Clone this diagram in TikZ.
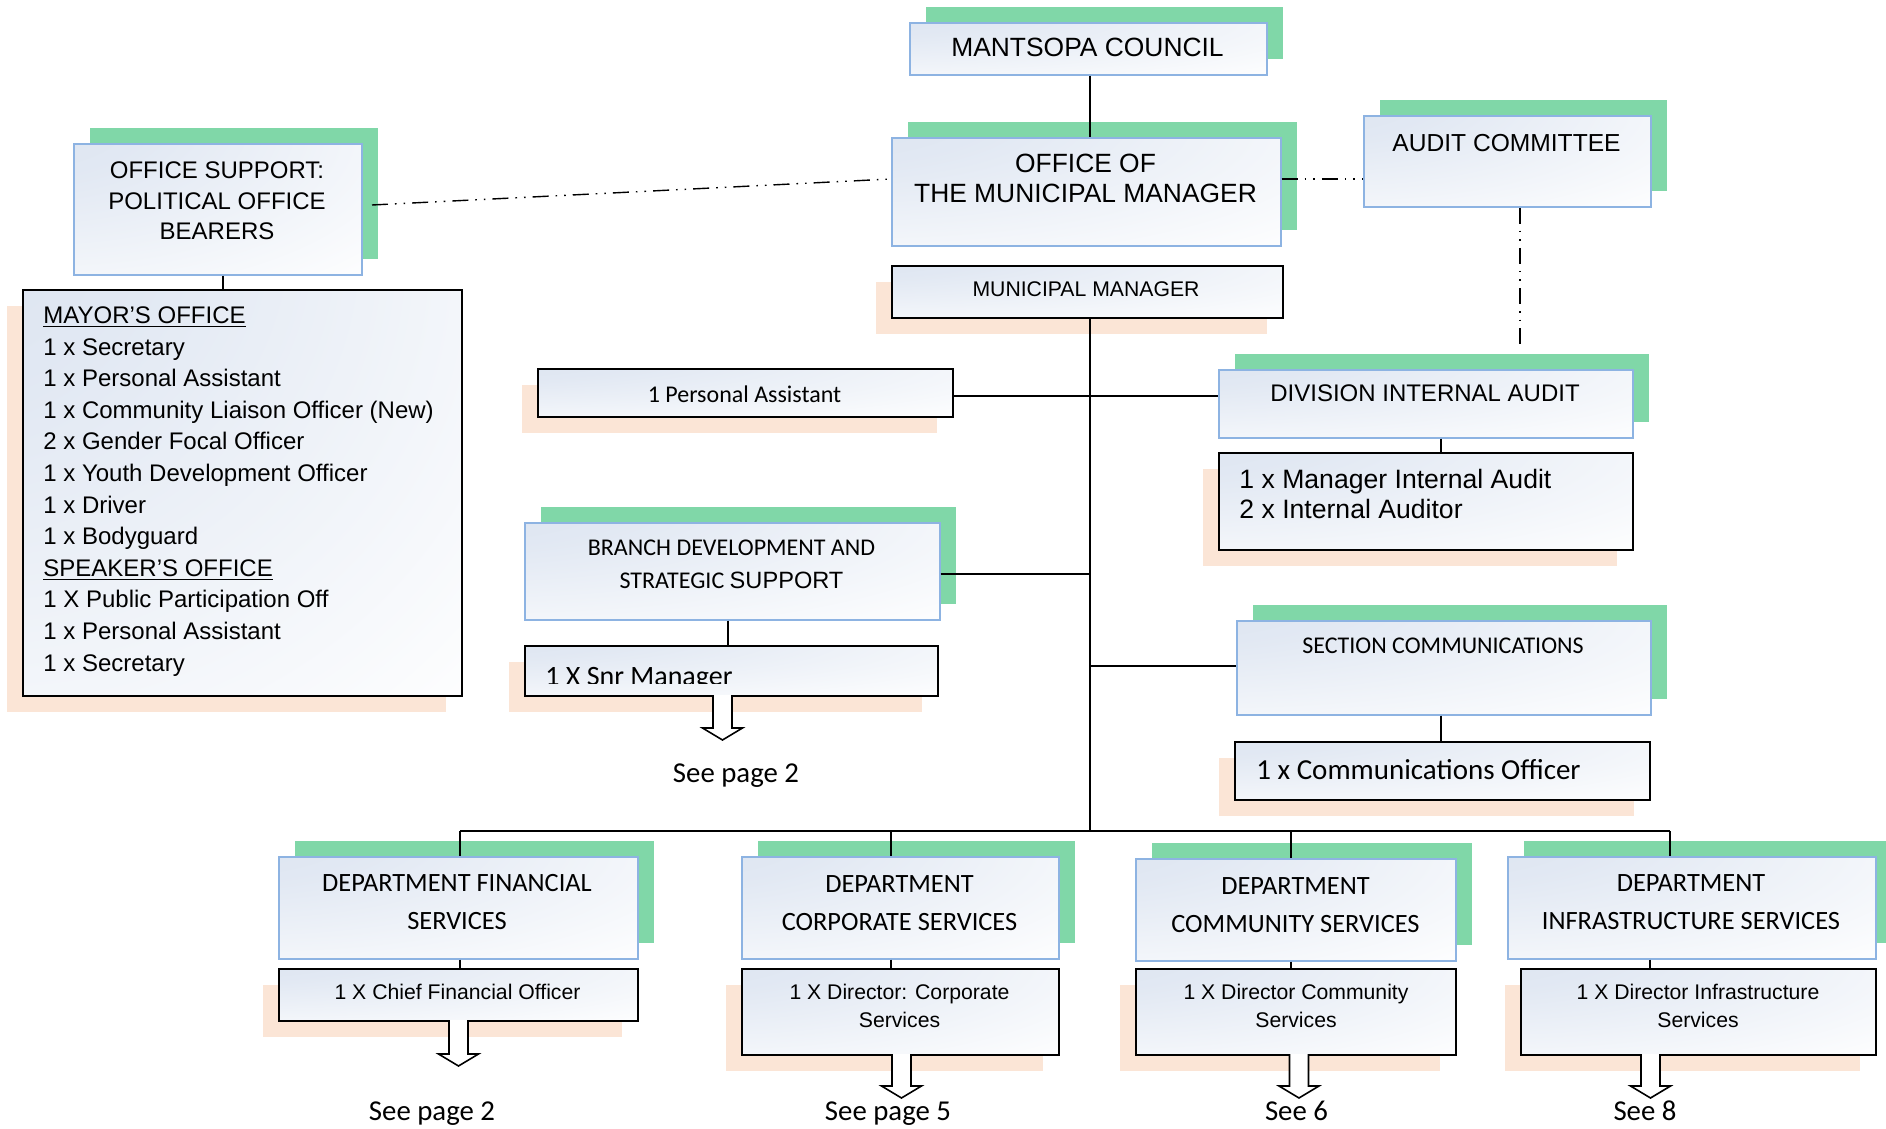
\documentclass[tikz,border=0pt]{standalone}
\usepackage{fontspec}
\setmainfont{Liberation Sans}
\newfontfamily\calibri{Carlito}
\usetikzlibrary{shadows}
\definecolor{shgreen}{RGB}{128,215,168}
\definecolor{shpeach}{RGB}{251,229,214}
\definecolor{bluebd}{RGB}{141,179,226}
\definecolor{gradc}{RGB}{216,225,239}
\pgfdeclareradialshading{boxglow}{\pgfpoint{-42bp}{42bp}}{color(0bp)=(gradc); color(25bp)=(gradc!75!white); color(72bp)=(white); color(160bp)=(white)}
\tikzset{
  boxbase/.style={rectangle, anchor=north west, inner sep=0pt, shading=boxglow},
  bluebox/.style={boxbase, draw=bluebd, line width=0.8pt, general shadow={fill=shgreen, shadow xshift=8pt, shadow yshift=8pt}},
  blackbox/.style={boxbase, draw=black, line width=0.8pt, general shadow={fill=shpeach, shadow xshift=-8pt, shadow yshift=-8pt}},
  sz/.style 2 args={minimum width=#1, minimum height=#2},
  lbl/.style={anchor=base, inner sep=0pt, align=center},
  lbll/.style={anchor=base west, inner sep=0pt, align=left},
  conn/.style={draw=black, line width=0.7pt},
  ddot/.style={conn, dash pattern=on 8pt off 3.5pt on 0.8pt off 3.5pt on 0.8pt off 3.5pt},
  barrow/.style={draw=black, fill=white, line width=0.8pt, line join=miter},
  fA/.style={font=\fontsize{13.2}{15}\selectfont},
  fB/.style={font=\fontsize{12}{15.5}\selectfont},
  fS/.style={font=\fontsize{10.6}{14}\selectfont},
  fC/.style={font=\calibri\fontsize{12}{16.5}\selectfont},
  fD/.style={font=\calibri\fontsize{13.2}{18.7}\selectfont},
  fE/.style={font=\calibri\fontsize{14.4}{17}\selectfont},
}
\newcommand\blockarr[3]{\draw[barrow] ({#1-9.5},#2) -- ({#1-9.5},{#3-12}) -- ({#1-20},{#3-12}) -- (#1,#3) -- ({#1+20},{#3-12}) -- ({#1+9.5},{#3-12}) -- ({#1+9.5},#2);}
\begin{document}
\begin{tikzpicture}[x=0.5pt, y=-0.5pt]
\clip (0,0) rectangle (1886,1129);
\fill[white] (0,0) rectangle (1886,1129);
% ---------- boxes ----------
\node[bluebox, sz={178.5pt}{26pt}] (council) at (909,22) {};
\node[bluebox, sz={194.5pt}{54pt}] (omm) at (891,137) {};
\node[blackbox, sz={195.5pt}{26pt}] (mm) at (891,265) {};
\node[bluebox, sz={143.5pt}{45.5pt}] (audit) at (1363,115) {};
\node[bluebox, sz={144pt}{65.5pt}] (ospob) at (73,143) {};
\node[blackbox, sz={219.5pt}{203pt}] (mayor) at (22,289) {};
\node[blackbox, sz={207.5pt}{24pt}] (pa) at (537,368) {};
\node[bluebox, sz={207.5pt}{48.5pt}] (bdss) at (524,522) {};
\node[blackbox, sz={206.5pt}{25pt}] (snr) at (524,645) {};
\node[bluebox, sz={207pt}{34pt}] (dia) at (1218,369) {};
\node[blackbox, sz={207pt}{48.5pt}] (mia) at (1218,452) {};
\node[bluebox, sz={207pt}{47pt}] (sc) at (1236,620) {};
\node[blackbox, sz={207.5pt}{29pt}] (co) at (1234,741) {};
\node[bluebox, sz={179.5pt}{51pt}] (dfs) at (278,856) {};
\node[blackbox, sz={179.5pt}{26pt}] (cfo) at (278,968) {};
\node[bluebox, sz={158.5pt}{51pt}] (dcs) at (741,856) {};
\node[blackbox, sz={158.5pt}{43pt}] (dcsd) at (741,968) {};
\node[bluebox, sz={160pt}{51pt}] (dcoms) at (1135,858) {};
\node[blackbox, sz={160pt}{43pt}] (dcomsd) at (1135,968) {};
\node[bluebox, sz={184pt}{51pt}] (dis) at (1507,856) {};
\node[blackbox, sz={177.5pt}{43pt}] (disd) at (1520,968) {};
% ---------- texts (anchor base = baseline of the last line) ----------
\node[lbl, fA] (councilT) at (1087.5,57) {MANTSOPA COUNCIL};
\node[lbl, fA] (ommT) at (1085.5,203) {OFFICE OF\\THE MUNICIPAL MANAGER};
\node[lbl, fS] (mmT) at (1086,296) {MUNICIPAL MANAGER};
\node[lbl, font=\fontsize{12.3}{15}\selectfont] (auditT) at (1506.5,152) {AUDIT COMMITTEE};
\node[lbl, fB] (ospobT) at (217,240) {OFFICE SUPPORT:\\POLITICAL OFFICE\\BEARERS};
\node[lbll, font=\fontsize{12}{15.8}\selectfont] (mayorT) at (43,671) {\underline{MAYOR’S OFFICE}\\1 x Secretary\\1 x Personal Assistant\\1 x Community Liaison Officer (New)\\2 x Gender Focal Officer\\1 x Youth Development Officer\\1 x Driver\\1 x Bodyguard\\\underline{SPEAKER’S OFFICE}\\1 X Public Participation Off\\1 x Personal Assistant\\1 x Secretary};
\node[lbl, fC] (paT) at (744.5,402) {1 Personal Assistant};
\node[lbl, fC] (bdssT) at (731.5,588) {BRANCH DEVELOPMENT AND\\STRATEGIC {\normalfont\fontsize{11.8}{16.5}\selectfont SUPPORT}};
\begin{scope}
\clip (524,645) rectangle (937,683);
\node[lbll, font=\calibri\fontsize{14}{16}\selectfont] (snrT) at (545,685) {1 X Snr Manager};
\end{scope}
\node[lbl, fE] (seeA) at (736,782) {See page 2};
\node[lbl, fB] (diaT) at (1425,401) {DIVISION INTERNAL AUDIT};
\node[lbll, font=\fontsize{13.3}{15}\selectfont] (miaT) at (1239,518) {1 x Manager Internal Audit\\2 x Internal Auditor};
\node[lbl, fC] (scT) at (1443,653) {SECTION COMMUNICATIONS};
\node[lbll, font=\calibri\fontsize{14.5}{17}\selectfont] (coT) at (1256,779) {1 x Communications Officer};
\node[lbl, fD] (dfsT) at (457,929) {DEPARTMENT FINANCIAL\\SERVICES};
\node[lbl, fS] (cfoT) at (457.5,999) {1 X Chief Financial Officer};
\node[lbl, fD] (dcsT) at (899.5,930) {DEPARTMENT\\CORPORATE SERVICES};
\node[lbl, fS] (dcsdT) at (899.5,1027) {1 X Director: Corporate\\Services};
\node[lbl, fD] (dcomsT) at (1295.5,932) {DEPARTMENT\\COMMUNITY SERVICES};
\node[lbl, fS] (dcomsdT) at (1296,1027) {1 X Director Community\\Services};
\node[lbl, fD] (disT) at (1691,929) {DEPARTMENT\\INFRASTRUCTURE SERVICES};
\node[lbl, fS] (disdT) at (1698,1027) {1 X Director Infrastructure\\Services};
\node[lbl, fE] (seeB) at (432,1120) {See page 2};
\node[lbl, fE] (seeC) at (888,1120) {See page 5};
\node[lbl, fE] (seeD) at (1296.5,1120) {See 6};
\node[lbl, fE] (seeE) at (1645,1120) {See 8};
% ---------- connectors ----------
\coordinate (tx) at (1090,0);
\draw[conn] (council.south -| tx) -- (omm.north -| tx);
\coordinate (busL) at (460,831);
\coordinate (busR) at (1670,831);
\coordinate (b2) at (891,831);
\coordinate (b3) at (1291,831);
\coordinate (b5) at (1650,0);
\draw[conn] (mm.south -| tx) -- (tx |- busL);
\draw[conn] (busL) -- (busR);
\draw[conn] (busL) -- (busL |- dfs.north);
\draw[conn] (b2) -- (b2 |- dcs.north);
\draw[conn] (b3) -- (b3 |- dcoms.north);
\draw[conn] (busR) -- (busR |- dis.north);
\draw[conn] (busL |- dfs.south) -- (busL |- cfo.north);
\draw[conn] (b2 |- dcs.south) -- (b2 |- dcsd.north);
\draw[conn] (b3 |- dcoms.south) -- (b3 |- dcomsd.north);
\draw[conn] (b5 |- dis.south) -- (b5 |- disd.north);
\coordinate (rowA) at (0,396);
\coordinate (rowB) at (0,574);
\coordinate (rowC) at (0,666);
\draw[conn] (pa.east |- rowA) -- (dia.west |- rowA);
\draw[conn] (bdss.east |- rowB) -- (tx |- rowB);
\draw[conn] (tx |- rowC) -- (sc.west |- rowC);
\coordinate (ox) at (223,0);
\draw[conn] (ospob.south -| ox) -- (mayor.north -| ox);
\coordinate (ix) at (1441,0);
\draw[conn] (dia.south -| ix) -- (mia.north -| ix);
\draw[conn] (sc.south -| ix) -- (co.north -| ix);
\coordinate (bx) at (728,0);
\draw[conn] (bdss.south -| bx) -- (snr.north -| bx);
\coordinate (ddY) at (0,179);
\coordinate (ospobR) at (372,205);
\draw[ddot] (ospobR) -- (omm.west |- ddY);
\draw[ddot] (omm.east |- ddY) -- (audit.west |- ddY);
\coordinate (ax) at (1520,350);
\draw[ddot] (audit.south -| ax) -- (ax);
% ---------- block arrows ----------
\blockarr{722.5}{695}{740}
\blockarr{458.5}{1020}{1066}
\blockarr{901.5}{1054}{1098}
\blockarr{1299}{1054}{1098}
\blockarr{1650.5}{1054}{1098}
\end{tikzpicture}
\end{document}
